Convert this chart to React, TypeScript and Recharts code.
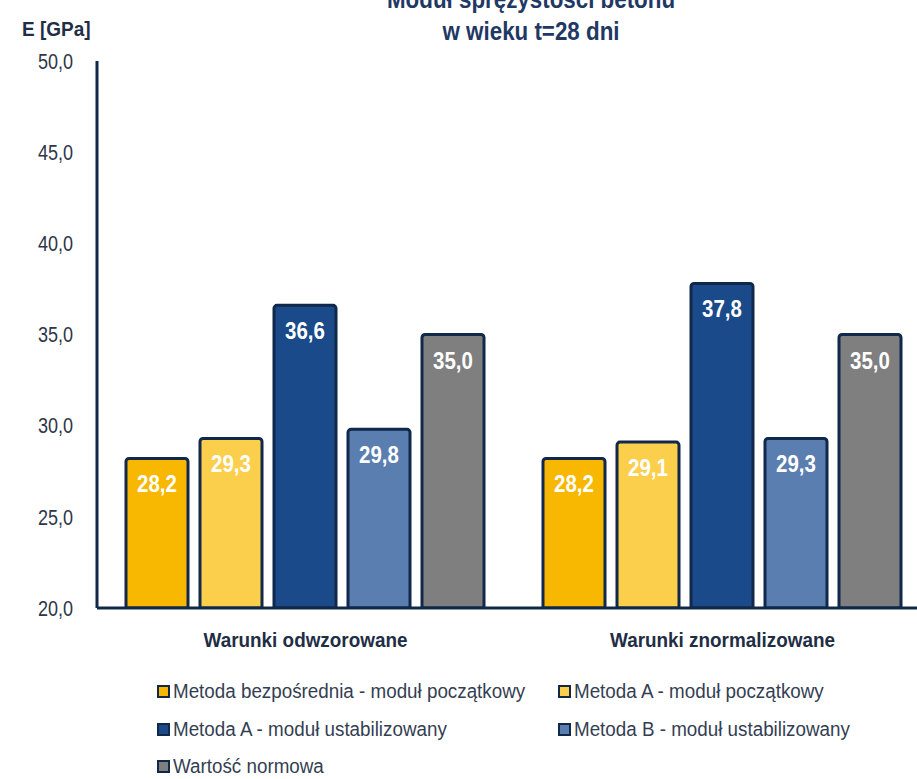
import React from "react";
import { BarChart, Bar, XAxis, YAxis, LabelList, Legend } from "recharts";

const categories = ["Warunki odwzorowane", "Warunki znormalizowane"];
const bezposredniaPoczatkowy = [28.2, 28.2];
const metodaAPoczatkowy = [29.3, 29.1];
const metodaAUstabilizowany = [36.6, 37.8];
const metodaBUstabilizowany = [29.8, 29.3];
const wartoscNormowa = [35.0, 35.0];
const yTicks = [20, 25, 30, 35, 40, 45, 50];

const series = [
  { key: "s1", name: "Metoda bezpośrednia - moduł początkowy", values: bezposredniaPoczatkowy, color: "#F8B700" },
  { key: "s2", name: "Metoda A - moduł początkowy", values: metodaAPoczatkowy, color: "#FBCF4C" },
  { key: "s3", name: "Metoda A - moduł ustabilizowany", values: metodaAUstabilizowany, color: "#1A4A8A" },
  { key: "s4", name: "Metoda B - moduł ustabilizowany", values: metodaBUstabilizowany, color: "#5B7EB0" },
  { key: "s5", name: "Wartość normowa", values: wartoscNormowa, color: "#7F7F7F" },
];

const data = categories.map((c, i) => {
  const row: Record<string, string | number> = { category: c };
  series.forEach((s) => (row[s.key] = s.values[i]));
  return row;
});

const FONT = "'Liberation Sans', Arial, sans-serif";
const NAVY = "#10294B";
const fmt = (v: any) => Number(v).toFixed(1).replace(".", ",");

// the source chart uses a condensed face, so text is squeezed horizontally
function YTick({ x, y, payload }: any) {
  return (
    <text
      transform={`translate(${x},${y}) scale(0.82,1)`}
      textAnchor="end"
      dy="0.355em"
      fontSize={22}
      fill="#2E3648"
      fontFamily={FONT}
    >
      {fmt(payload.value)}
    </text>
  );
}

function XTick({ x, y, payload }: any) {
  return (
    <text
      transform={`translate(${x},${y}) scale(0.9,1)`}
      textAnchor="middle"
      dy="0.71em"
      fontSize={21}
      fontWeight={700}
      fill="#1F2D45"
      fontFamily={FONT}
    >
      {payload.value}
    </text>
  );
}

function BarValue({ x, y, width, value }: any) {
  return (
    <text
      transform={`translate(${x + width / 2},${y + 34}) scale(0.89,1)`}
      textAnchor="middle"
      fontSize={23}
      fontWeight={700}
      fill="#ffffff"
      fontFamily={FONT}
    >
      {fmt(value)}
    </text>
  );
}

function LegendGrid(props: any) {
  const items = [...(props.payload || [])].sort(
    (a: any, b: any) =>
      series.findIndex((s) => s.name === a.value) - series.findIndex((s) => s.name === b.value)
  );
  return (
    <div
      style={{
        display: "grid",
        gridTemplateColumns: "401px 340px",
        fontFamily: FONT,
        fontSize: 20,
        color: "#343E52",
      }}
    >
      {items.map((it: any) => (
        <div key={it.value} style={{ display: "flex", alignItems: "center", height: 37.5, whiteSpace: "nowrap" }}>
          <span
            style={{
              display: "inline-block",
              width: 9,
              height: 9,
              background: it.color,
              border: `2px solid ${NAVY}`,
              marginRight: 3,
              flex: "none",
            }}
          />
          <span style={{ display: "inline-block", transform: "scaleX(0.94)", transformOrigin: "left center" }}>
            {it.value}
          </span>
        </div>
      ))}
    </div>
  );
}

export default function App() {
  return (
    <div
      style={{
        position: "fixed",
        left: 0,
        top: 0,
        width: 917,
        height: 779,
        overflow: "hidden",
        background: "#fff",
        fontFamily: FONT,
      }}
    >
      <svg width={917} height={60} style={{ position: "absolute", left: 0, top: 0 }}>
        <text
          transform="translate(531,8) scale(0.86,1)"
          textAnchor="middle"
          fontSize={26}
          fontWeight={700}
          fill="#1F3864"
          fontFamily={FONT}
        >
          Moduł sprężystości betonu
        </text>
        <text
          transform="translate(531,40) scale(0.86,1)"
          textAnchor="middle"
          fontSize={26}
          fontWeight={700}
          fill="#1F3864"
          fontFamily={FONT}
        >
          w wieku t=28 dni
        </text>
        <text
          transform="translate(22,36) scale(0.95,1)"
          fontSize={20}
          fontWeight={700}
          fill="#1F2D45"
          fontFamily={FONT}
        >
          E [GPa]
        </text>
      </svg>
      <BarChart
        width={931}
        height={779}
        data={data}
        margin={{ top: 61, right: 0, left: 0, bottom: 131 }}
        barCategoryGap={29}
        barGap={12}
      >
        <XAxis
          dataKey="category"
          height={40}
          axisLine={{ stroke: NAVY, strokeWidth: 3 }}
          tickLine={false}
          tickSize={0}
          tickMargin={24}
          tick={<XTick />}
        />
        <YAxis
          width={97}
          domain={[20, 50]}
          ticks={yTicks}
          interval={0}
          allowDataOverflow
          axisLine={{ stroke: NAVY, strokeWidth: 3 }}
          tickLine={false}
          tickSize={0}
          tickMargin={24}
          tick={<YTick />}
        />
        <Legend
          layout="horizontal"
          verticalAlign="middle"
          align="center"
          wrapperStyle={{ top: 673, left: 157, width: 760 }}
          content={<LegendGrid />}
        />
        {series.map((s) => (
          <Bar
            key={s.key}
            dataKey={s.key}
            name={s.name}
            fill={s.color}
            stroke={NAVY}
            strokeWidth={3}
            radius={[3, 3, 0, 0]}
            isAnimationActive={false}
          >
            <LabelList dataKey={s.key} content={<BarValue />} />
          </Bar>
        ))}
      </BarChart>
    </div>
  );
}
